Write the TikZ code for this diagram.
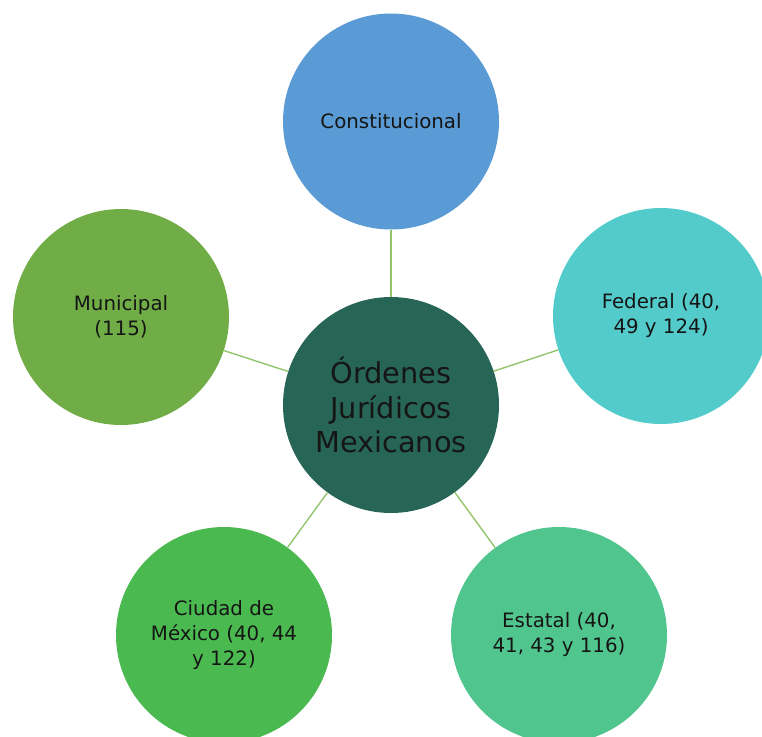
\documentclass[tikz,border=0pt]{standalone}
\usepackage{fontspec}
\setmainfont{DejaVu Sans}
\definecolor{cblue}{HTML}{5B9BD5}
\definecolor{cteal}{HTML}{53CBCB}
\definecolor{cmint}{HTML}{50C68E}
\definecolor{cgreen}{HTML}{4ABA50}
\definecolor{colive}{HTML}{70AD47}
\definecolor{cdark}{HTML}{276656}
\definecolor{cline}{HTML}{92C46C}
\definecolor{ctext}{HTML}{151515}
\begin{document}
\begin{tikzpicture}[x=1pt,y=-1pt,
  orb/.style={circle, minimum size=216pt, inner sep=0pt, align=center, text=ctext,
    font=\fontsize{19.8}{25}\selectfont},
  hub/.style={orb, font=\fontsize{28.8}{34.5}\selectfont},
  link/.style={draw=cline, line width=1.4pt}]
\useasboundingbox (0,0) rectangle (762,736);
\node[hub, fill=cdark] (c) at (391,405) {Órdenes\\Jurídicos\\Mexicanos};
\node[orb, fill=cblue] (n1) at (391,121.5) {Constitucional};
\node[orb, fill=cteal] (n2) at (661,316) {Federal (40,\\49 y 124)};
\node[orb, fill=cmint] (n3) at (559,635) {Estatal (40,\\41, 43 y 116)};
\node[orb, fill=cgreen] (n4) at (224,635) {Ciudad de\\México (40, 44\\y 122)};
\node[orb, fill=colive] (n5) at (121,317) {Municipal\\(115)};
\foreach \n in {n1,n2,n3,n4,n5} \draw[link] (c) -- (\n);
\end{tikzpicture}
\end{document}
